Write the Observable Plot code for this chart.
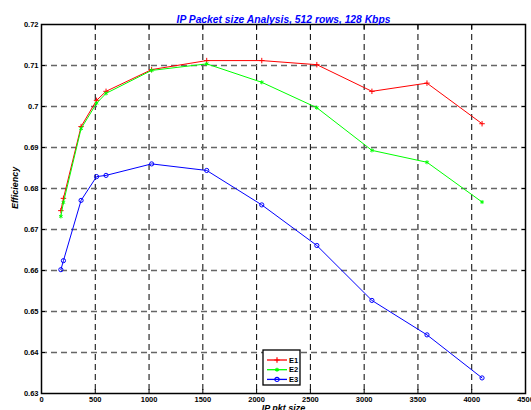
<!DOCTYPE html>
<html><head><meta charset="utf-8">
<script src="https://cdn.jsdelivr.net/npm/d3@7"></script>
<script src="https://cdn.jsdelivr.net/npm/@observablehq/plot@0.6"></script>
<style>
body{margin:0;background:#fff;}
#wrap{position:relative;width:531px;height:410px;overflow:hidden;font-family:"Liberation Sans",Arial,sans-serif;}
#legend{position:absolute;left:262px;top:349px;}
</style></head>
<body><div id="wrap"></div>
<script>
const titleText = "IP Packet size Analysis, 512 rows, 128 Kbps";
const xLabel = "IP pkt size";
const yLabel = "Efficiency";
const pktSize = [180, 204, 368, 512, 600, 1024, 1536, 2048, 2560, 3072, 3584, 4096];
const e1 = [0.6746, 0.6776, 0.6951, 0.7015, 0.7037, 0.7090, 0.7112, 0.7112, 0.7102, 0.7037, 0.7057, 0.6958];
const e2 = [0.6732, 0.6766, 0.6946, 0.7008, 0.7032, 0.7088, 0.7104, 0.7059, 0.6997, 0.6893, 0.6864, 0.6767];
const e3 = [0.6602, 0.6624, 0.6771, 0.6829, 0.6832, 0.6860, 0.6844, 0.6760, 0.6661, 0.6527, 0.6443, 0.6338];
const seriesNames = ["E1", "E2", "E3"];
const seriesColors = ["#ff0000", "#00ff00", "#0000ff"];
const seriesSymbols = ["plus", "asterisk", "circle"];
const xTicks = [0, 500, 1000, 1500, 2000, 2500, 3000, 3500, 4000, 4500];
const yTicks = [0.63, 0.64, 0.65, 0.66, 0.67, 0.68, 0.69, 0.70, 0.71, 0.72];
const yTickLabels = ["0.63", "0.64", "0.65", "0.66", "0.67", "0.68", "0.69", "0.7", "0.71", "0.72"];

const symbolR = {plus: 1.9, asterisk: 1.9, circle: 2.1};
const seriesValues = [e1, e2, e3];
const seriesMarks = seriesValues.flatMap((vals, k) => [
  Plot.line(pktSize, {x: d => d, y: (d, i) => vals[i], stroke: seriesColors[k], strokeWidth: 1}),
  Plot.dot(pktSize, {x: d => d, y: (d, i) => vals[i], stroke: seriesColors[k], symbol: seriesSymbols[k], r: symbolR[seriesSymbols[k]], strokeWidth: 1, fill: "none"})
]);

const chart = Plot.plot({
  width: 531, height: 410,
  marginLeft: 41, marginRight: 6, marginTop: 24, marginBottom: 17,
  style: {fontFamily: "Liberation Sans, Arial, sans-serif", fontSize: "7.5px", fontWeight: "bold", color: "#000", background: "#fff"},
  x: {domain: [0, 4500]},
  y: {domain: [0.63, 0.72]},
  marks: [
    Plot.ruleX(xTicks.slice(1, -1), {stroke: "#000", strokeDasharray: "6,4", strokeWidth: 1}),
    Plot.ruleY(yTicks.slice(1, -1), {stroke: "#666", strokeDasharray: "6,4", strokeWidth: 1.3}),
    Plot.axisX({ticks: xTicks, tickSize: 0, tickPadding: 3, label: null, tickFormat: d => String(d)}),
    Plot.axisX({ticks: xTicks, tickSize: -4, label: null, tickFormat: () => ""}),
    Plot.axisX({anchor: "top", ticks: xTicks, tickSize: -4, label: null, tickFormat: () => ""}),
    Plot.axisY({ticks: yTicks, tickSize: 0, tickPadding: 3, label: null, tickFormat: (d, i) => yTickLabels[i]}),
    Plot.axisY({ticks: yTicks, tickSize: -4, label: null, tickFormat: () => ""}),
    Plot.axisY({anchor: "right", ticks: yTicks, tickSize: -4, label: null, tickFormat: () => ""}),
    ...seriesMarks,
    Plot.frame({stroke: "#000", strokeWidth: 1.5}),
    Plot.text([titleText], {frameAnchor: "top", dy: -9, fill: "#0000ff", fontWeight: "bold", fontStyle: "italic", fontSize: 10.3}),
    Plot.text([xLabel], {frameAnchor: "bottom", dy: 17, fill: "#000", fontWeight: "bold", fontStyle: "italic", fontSize: 9}),
    Plot.text([yLabel], {frameAnchor: "left", dx: -26, rotate: -90, fill: "#000", fontWeight: "bold", fontStyle: "italic", fontSize: 9})
  ]
});
document.getElementById("wrap").appendChild(chart);

// legend (drawn inside the plot area, like the reference)
const lg = d3.select("#wrap").append("svg").attr("id", "legend").attr("width", 40).attr("height", 38);
lg.append("rect").attr("x", 1).attr("y", 1).attr("width", 37).attr("height", 35).attr("fill", "#fff").attr("stroke", "#000").attr("stroke-width", 1.3);
seriesNames.forEach((name, k) => {
  const cy = 11 + k * 9.7;
  lg.append("line").attr("x1", 5).attr("x2", 25).attr("y1", cy).attr("y2", cy).attr("stroke", seriesColors[k]).attr("stroke-width", 1.3);
  const sym = {plus: d3.symbolPlus, asterisk: d3.symbolAsterisk, circle: d3.symbolCircle}[seriesSymbols[k]];
  const r = symbolR[seriesSymbols[k]];
  lg.append("path").attr("d", d3.symbol(sym, Math.PI * r * r)()).attr("transform", `translate(15,${cy})`).attr("fill", "none").attr("stroke", seriesColors[k]).attr("stroke-width", 1.2);
  lg.append("text").attr("x", 27).attr("y", cy).attr("dy", "0.35em").attr("fill", "#000").attr("font-size", 7.5).attr("font-weight", "bold").attr("font-family", "Liberation Sans, Arial, sans-serif").text(name);
});
</script>
</body></html>
